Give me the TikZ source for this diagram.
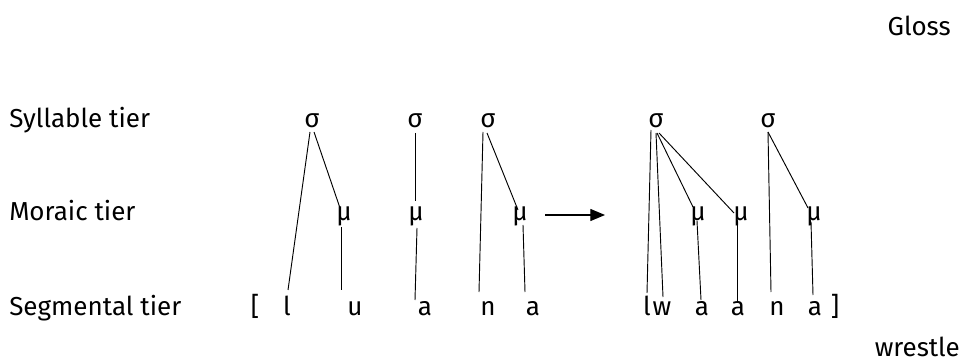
\documentclass[tikz,border=0pt]{standalone}
\usepackage{fontspec}
\setmainfont{Fira Sans}
\usetikzlibrary{calc,arrows.meta}
\begin{document}
\begin{tikzpicture}[x=0.75pt,y=-0.75pt,
  txt/.style={inner sep=0pt,anchor=base,font=\fontsize{19.5pt}{23pt}\selectfont},
  lbl/.style={txt,anchor=base west},
  assoc/.style={draw=black,line width=0.7pt},
  rule/.style={draw=black,line width=0.9pt,-{Triangle[length=11pt,width=9pt]}}]
\useasboundingbox (0,0) rectangle (963,363);
% labels
\node[txt,anchor=base east] (gloss) at (951,36) {Gloss};
\node[lbl] (syl) at (9,128) {Syllable tier};
\node[lbl] (mor) at (9,221) {Moraic tier};
\node[lbl] (segl) at (9,315) {Segmental tier};
\node[txt,anchor=base east] (wr) at (960,356) {wrestle};
% syllables
\node[txt] (s1) at (312,128) {σ};
\node[txt] (s2) at (415,128) {σ};
\node[txt] (s3) at (488,128) {σ};
\node[txt] (s4) at (656,128) {σ};
\node[txt] (s5) at (768,128) {σ};
% morae
\node[txt] (m1) at (344,221) {μ};
\node[txt] (m2) at (416,221) {μ};
\node[txt] (m3) at (520,221) {μ};
\node[txt] (m4) at (698,221) {μ};
\node[txt] (m5) at (741,221) {μ};
\node[txt] (m6) at (814,221) {μ};
% segments
\node[txt] (lb) at (255,315) {[};
\node[txt] (x1) at (287,315) {l};
\node[txt] (x2) at (355,315) {u};
\node[txt] (x3) at (425,315) {a};
\node[txt] (x4) at (488,315) {n};
\node[txt] (x5) at (533,315) {a};
\node[txt] (y1) at (647,315) {l};
\node[txt] (y2) at (662,315) {w};
\node[txt] (y3) at (702,315) {a};
\node[txt] (y4) at (738,315) {a};
\node[txt] (y5) at (777,315) {n};
\node[txt] (y6) at (815,315) {a};
\node[txt] (rb) at (835,315) {]};
% associations, input
\draw[assoc] ($(s1.base)+(-2,4)$) -- ($(x1.base)+(1,-25)$);
\draw[assoc] ($(s1.base)+(2,4)$) -- ($(m1.base)+(-4,-13)$);
\draw[assoc] ($(m1.base)+(-3,6)$) -- ($(m1.base)+(-3,69)$);
\draw[assoc] ($(s2.base)+(0,5)$) -- ($(m2.base)+(-1,-20)$);
\draw[assoc] ($(m2.base)+(1,7)$) -- ($(x3.base)+(-10,-15)$);
\draw[assoc] ($(s3.base)+(-5,4)$) -- ($(x4.base)+(-9,-23)$);
\draw[assoc] ($(s3.base)+(-1,5)$) -- ($(m3.base)+(-2,-11)$);
\draw[assoc] ($(m3.base)+(3,4)$) -- ($(x5.base)+(-8,-23)$);
% rule arrow
\draw[rule] ($(m3.base)+(25,-6)$) -- ($(m3.base)+(85,-6)$);
% associations, output
\draw[assoc] ($(s4.base)+(-5,2)$) -- ($(y1.base)+(0,-22)$);
\draw[assoc] ($(s4.base)+(0,5)$) -- ($(y2.base)+(1,-18)$);
\draw[assoc] ($(s4.base)+(1,5)$) -- ($(m4.base)+(-5,-14)$);
\draw[assoc] ($(s4.base)+(3,5)$) -- ($(m5.base)+(-7,-8)$);
\draw[assoc] ($(m4.base)+(-1,0)$) -- ($(y3.base)+(-1,-15)$);
\draw[assoc] ($(m5.base)+(-4,0)$) -- ($(y4.base)+(-1,-12)$);
\draw[assoc] ($(s5.base)+(0,4)$) -- ($(y5.base)+(-6,-23)$);
\draw[assoc] ($(s5.base)+(0,4)$) -- ($(m6.base)+(-6,-13)$);
\draw[assoc] ($(m6.base)+(-3,1)$) -- ($(y6.base)+(-2,-20)$);
\end{tikzpicture}
\end{document}
